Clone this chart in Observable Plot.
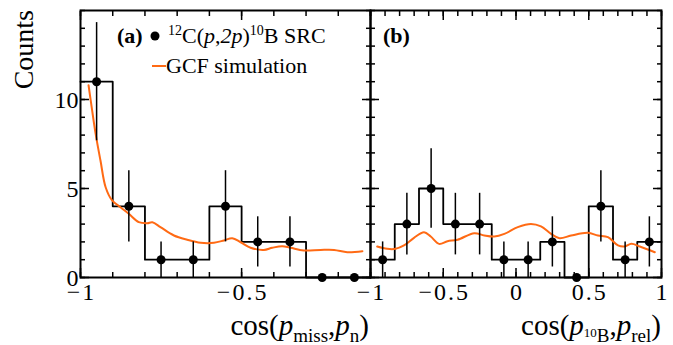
<!DOCTYPE html>
<html><head><meta charset="utf-8">
<script src="https://cdn.jsdelivr.net/npm/d3@7"></script>
<script src="https://cdn.jsdelivr.net/npm/@observablehq/plot@0.6"></script>
<style>
body{margin:0;background:#fff;}
#wrap{position:relative;width:673px;height:345px;overflow:hidden;background:#fff;}
#wrap svg{position:absolute;left:0;top:0;}
#wrap svg, #wrap svg text, #wrap svg tspan{font-family:"Liberation Serif", serif !important;}
</style></head><body><div id="wrap"></div>
<script>
// ---- Panel (a): cos(p_miss, p_n) ----
const edgesA  = [-1, -0.9, -0.8, -0.7, -0.6, -0.5, -0.4, -0.3, -0.2, -0.1];
const countsA = [11, 4, 1, 1, 4, 2, 2, 0, 0];
const errorsA = [3.32, 2, 1, 1, 2, 1.41, 1.41, 0, 0];
const gcfAx = [-0.975,-0.964,-0.953,-0.938,-0.922,-0.902,-0.876,-0.85,-0.819,-0.793,-0.777,-0.752,-0.71,-0.669,-0.627,-0.586,-0.555,-0.529,-0.503,-0.472,-0.431,-0.405,-0.374,-0.348,-0.307,-0.255,-0.213,-0.172,-0.125];
const gcfAy = [10.8,9.4,8.07,6.57,5.07,4.33,3.95,3.58,3.11,3.05,3.1,2.83,2.36,2.12,1.95,1.95,2.08,2.21,1.98,1.67,1.55,1.67,1.76,1.67,1.52,1.55,1.55,1.42,1.48];
const xLabelsA = [-1, -0.5];
const xMinorA  = [-1,-0.9,-0.8,-0.7,-0.6,-0.5,-0.4,-0.3,-0.2,-0.1];

// ---- Panel (b): cos(p_10B, p_rel) ----
const edgesB  = [-1, -5/6, -4/6, -3/6, -2/6, -1/6, 0, 1/6, 2/6, 3/6, 4/6, 5/6, 1];
const countsB = [1, 3, 5, 3, 3, 1, 1, 2, 0, 4, 1, 2];
const errorsB = [1, 1.73, 2.24, 1.73, 1.73, 1, 1, 1.41, 0, 2, 1, 1.41];
const gcfBx = [-0.954,-0.885,-0.828,-0.77,-0.701,-0.632,-0.586,-0.529,-0.471,-0.402,-0.287,-0.218,-0.149,-0.08,0.012,0.103,0.172,0.241,0.299,0.379,0.494,0.563,0.632,0.701,0.747,0.793,0.851,0.954];
const gcfBy = [1.74,1.61,1.61,1.8,2.23,2.54,2.3,1.89,2.04,2.12,2.49,2.36,2.3,2.45,2.83,3.01,2.87,2.45,2.21,2.36,2.51,2.36,2.27,1.8,1.74,1.89,1.74,1.42];
const xLabelsB = [-1, -0.5, 0, 0.5, 1];
const xMinorB  = d3.range(-10, 11).map(d => d / 10);

// ---- shared y ----
const yLabels = [0, 5, 10];
const yMinor  = d3.range(0, 16);

const ORANGE = "#ff6a14";
const FONT = "Liberation Serif";
const fmt = d => d < 0 ? "\u2212" + Math.abs(d) : String(d);

function panel({edges, counts, errors, gx, gy, domain, mLeft, mRight, xMinor, xLabels, yLabelsOn}) {
  const n = counts.length;
  const step = edges.slice(0, n).map((e, i) => ({x: e, y: counts[i]}));
  step.push({x: edges[n], y: counts[n - 1]});
  const pts = counts.map((c, i) => ({x: (edges[i] + edges[i + 1]) / 2, y: c, e: errors[i]}));
  const curve = gx.map((x, i) => ({x, y: gy[i]}));
  const xMajor = xLabels;
  return Plot.plot({
    width: 673, height: 345,
    marginLeft: mLeft, marginRight: mRight, marginTop: 10, marginBottom: 68,
    style: {fontFamily: FONT, background: "transparent", color: "black", overflow: "visible"},
    x: {domain, label: null},
    y: {domain: [0, 15], label: null},
    marks: [
      Plot.axisX({ticks: xMinor, anchor: "bottom", tickSize: -5, fill: "none", strokeWidth: 1.5, label: null}),
      Plot.axisX({ticks: xMajor, anchor: "bottom", tickSize: -9, fill: "none", strokeWidth: 1.5, label: null}),
      Plot.axisX({ticks: xMinor, anchor: "top", tickSize: -5, fill: "none", strokeWidth: 1.5, label: null}),
      Plot.axisX({ticks: xMajor, anchor: "top", tickSize: -9, fill: "none", strokeWidth: 1.5, label: null}),
      Plot.axisX({ticks: xLabels, anchor: "bottom", tickSize: 0, tickPadding: 5, fontSize: 24, fontFamily: FONT, tickFormat: fmt, label: null}),
      Plot.axisY({ticks: yMinor, anchor: "left", tickSize: -5, fill: "none", strokeWidth: 1.5, label: null}),
      Plot.axisY({ticks: yLabels, anchor: "left", tickSize: -9, fill: "none", strokeWidth: 1.5, label: null}),
      Plot.axisY({ticks: yMinor, anchor: "right", tickSize: -5, fill: "none", strokeWidth: 1.5, label: null}),
      Plot.axisY({ticks: yLabels, anchor: "right", tickSize: -9, fill: "none", strokeWidth: 1.5, label: null}),
      yLabelsOn ? Plot.axisY({ticks: yLabels, anchor: "left", tickSize: 0, tickPadding: 2, fontSize: 24, fontFamily: FONT, tickFormat: fmt, label: null, dy: 1}) : null,
      Plot.line(step, {x: "x", y: "y", curve: "step-after", stroke: "black", strokeWidth: 1.8}),
      Plot.line(curve, {x: "x", y: "y", curve: "catmull-rom", stroke: ORANGE, strokeWidth: 2}),
      Plot.ruleX(pts.filter(d => d.e > 0), {x: "x", y1: d => d.y - d.e, y2: d => d.y + d.e, stroke: "black", strokeWidth: 1.5}),
      Plot.dot(pts, {x: "x", y: "y", r: 4.5, fill: "black", stroke: "none"}),
      Plot.frame({stroke: "black", strokeWidth: 2})
    ]
  });
}

const wrap = document.getElementById("wrap");
const svgA = panel({edges: edgesA, counts: countsA, errors: errorsA, gx: gcfAx, gy: gcfAy,
  domain: [-1, -0.1], mLeft: 80, mRight: 303, xMinor: xMinorA, xLabels: xLabelsA, yLabelsOn: true});
const svgB = panel({edges: edgesB, counts: countsB, errors: errorsB, gx: gcfBx, gy: gcfBy,
  domain: [-1, 1], mLeft: 370, mRight: 12, xMinor: xMinorB, xLabels: xLabelsB, yLabelsOn: false});
wrap.appendChild(svgA);
wrap.appendChild(svgB);

// ROOT-style wider x tick labels
d3.selectAll('#wrap svg g[aria-label="x-axis tick label"] text').style("letter-spacing", "2px").attr("dx", 1);

// ---- annotations (real SVG text with sub/superscripts) ----
const s = d3.select(svgB);
const g = s.append("g").attr("text-anchor", "start").attr("fill", "black");

g.append("text").attr("transform", "translate(33,10) rotate(-90)").attr("text-anchor", "end")
  .attr("font-size", 28).text("Counts");

const ta = g.append("text").attr("x", 369).attr("y", 335).attr("text-anchor", "end").attr("font-size", 29);
ta.append("tspan").text("cos(");
ta.append("tspan").attr("font-style", "italic").text("p");
ta.append("tspan").attr("font-size", 19).attr("dy", 7).text("miss");
ta.append("tspan").attr("dy", -7).text(",");
ta.append("tspan").attr("font-style", "italic").text("p");
ta.append("tspan").attr("font-size", 19).attr("dy", 7).text("n");
ta.append("tspan").attr("dy", -7).text(")");

const tb = g.append("text").attr("x", 661).attr("y", 335).attr("text-anchor", "end").attr("font-size", 29);
tb.append("tspan").text("cos(");
tb.append("tspan").attr("font-style", "italic").text("p");
tb.append("tspan").attr("font-size", 13).attr("dy", 2).text("10");
tb.append("tspan").attr("font-size", 19).attr("dy", 5).text("B");
tb.append("tspan").attr("dy", -7).text(",");
tb.append("tspan").attr("font-style", "italic").text("p");
tb.append("tspan").attr("font-size", 19).attr("dy", 7).text("rel");
tb.append("tspan").attr("dy", -7).text(")");

g.append("text").attr("x", 117).attr("y", 43).attr("font-size", 22).attr("font-weight", "bold").text("(a)");
g.append("circle").attr("cx", 155).attr("cy", 36).attr("r", 4.5).attr("fill", "black");
const l1 = g.append("text").attr("x", 168).attr("y", 43).attr("font-size", 22);
l1.append("tspan").attr("font-size", 14).attr("dy", -8).text("12");
l1.append("tspan").attr("dy", 8).text("C(");
l1.append("tspan").attr("font-style", "italic").text("p");
l1.append("tspan").text(",");
l1.append("tspan").attr("font-style", "italic").text("2p");
l1.append("tspan").text(")");
l1.append("tspan").attr("font-size", 14).attr("dy", -8).text("10");
l1.append("tspan").attr("dy", 8).text("B SRC");
g.append("line").attr("x1", 152).attr("x2", 166).attr("y1", 66).attr("y2", 66).attr("stroke", ORANGE).attr("stroke-width", 2);
g.append("text").attr("x", 166).attr("y", 73).attr("font-size", 22).text("GCF simulation");

g.append("text").attr("x", 383).attr("y", 43).attr("font-size", 22).attr("font-weight", "bold").text("(b)");

// force the serif family on every text node (inline style)
d3.selectAll("#wrap svg text").attr("font-family", FONT).style("font-family", "'Liberation Serif', serif");
</script></body></html>
